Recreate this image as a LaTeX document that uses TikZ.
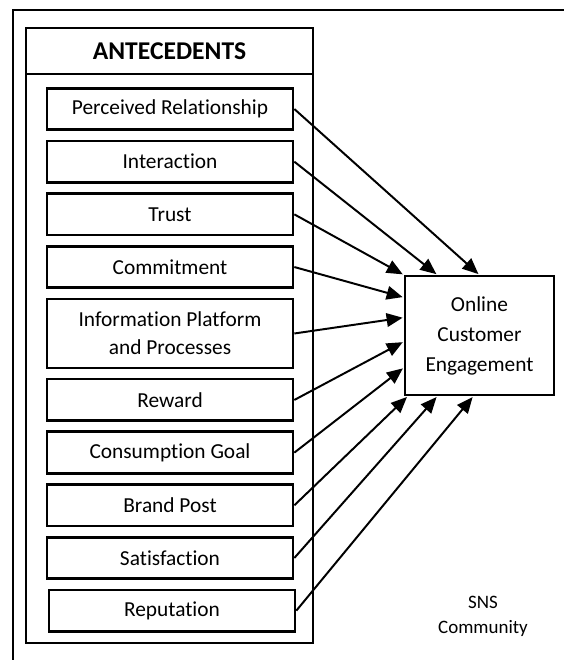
\documentclass[tikz,border=0pt]{standalone}
\usepackage{fontspec}
\setmainfont{Carlito}[Ligatures=NoCommon]
\usetikzlibrary{arrows.meta, positioning}

\begin{document}
\begin{tikzpicture}[
  factor/.style={rectangle, draw=black, line width=1.9pt, minimum width=6.15cm, minimum height=1.04cm, align=center, font=\fontsize{15.2}{20}\selectfont},
  panel/.style={rectangle, draw=black, line width=1.4pt, minimum width=7.175cm},
  outcome/.style={rectangle, draw=black, line width=1.4pt, minimum width=3.725cm, minimum height=2.975cm, align=center, font=\fontsize{15.2}{21.3}\selectfont},
  arrow/.style={-{Triangle[length=0.4cm, width=0.34cm]}, line width=1.4pt, shorten >=1pt},
  node distance=0.21cm
]
\useasboundingbox (0,0) rectangle (14.1,-16.5);

% --- Rahmen ---
\draw[line width=1.4pt] (0.325,-16.5) |- (14.1,-0.25);

% --- Antecedents ---
\node[panel, minimum height=15.375cm] (panel) at (4.2375,-8.3875) {};
\node[panel, minimum height=1.15cm, anchor=north, font=\bfseries\fontsize{18.2}{20}\selectfont] (header) at (panel.north) {ANTECEDENTS};

\node[factor] (relationship) at (4.25,-2.725) {Perceived Relationship};
\node[factor, below=of relationship] (interaction) {Interaction};
\node[factor, below=of interaction]  (trust)       {Trust};
\node[factor, below=of trust]        (commitment)  {Commitment};
\node[factor, below=of commitment, minimum height=1.73cm] (platform) {Information Platform\\and Processes};
\node[factor, below=of platform]     (reward)      {Reward};
\node[factor, below=of reward]       (goal)        {Consumption Goal};
\node[factor, below=of goal]         (brandpost)   {Brand Post};
\node[factor, below=of brandpost]    (satisfaction) {Satisfaction};
\node[factor, below=of satisfaction, xshift=0.05cm] (reputation) {Reputation};

% --- Outcome ---
\node[outcome] (engagement) at (11.9875,-8.3875) {Online\\Customer\\Engagement};
\node[align=center, font=\fontsize{13.5}{17.8}\selectfont] (sns) at (12.075,-15.4) {SNS\\Community};

% Verbindungen
\draw[arrow] (relationship.east) -- (engagement.north);
\draw[arrow] (interaction.east)  -- ([xshift=-1.05cm]engagement.north);
\draw[arrow] (trust.east)        -- (engagement.north west);
\draw[arrow] (commitment.east)   -- ([yshift=0.95cm]engagement.west);
\draw[arrow] (platform.east)     -- ([yshift=0.45cm]engagement.west);
\draw[arrow] (reward.east)       -- ([yshift=-0.15cm]engagement.west);
\draw[arrow] (goal.east)         -- ([yshift=-0.8cm]engagement.west);
\draw[arrow] (brandpost.east)    -- ([xshift=0.1cm]engagement.south west);
\draw[arrow] (satisfaction.east) -- ([xshift=-1.05cm]engagement.south);
\draw[arrow] (reputation.east)   -- ([xshift=-0.15cm]engagement.south);
\end{tikzpicture}
\end{document}
